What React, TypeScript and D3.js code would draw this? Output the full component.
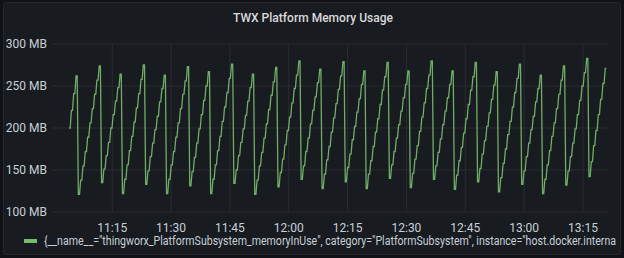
import React from "react";
import * as d3 from "d3";

const W = 624;
const H = 258;

const chartTitle = "TWX Platform Memory Usage";
const legendLabel =
  '{__name__="thingworx_PlatformSubsystem_memoryInUse", category="PlatformSubsystem", instance="host.docker.interna';

const yTicks = [100, 150, 200, 250, 300];
const xTickLabels = ["11:15", "11:30", "11:45", "12:00", "12:15", "12:30", "12:45", "13:00", "13:15"];

const rangeStart = "10:59:39";
const rangeEnd = "13:21:38";
const seriesStart = "11:04:00";
const sampleSeconds = 35.5;

// memory in use (MB), one value per sample, grouped by GC cycle
const startValues = [200, 221, 241, 262];
const memoryCycles: number[][] = [
  [121, 138, 155, 172, 189, 206, 223, 240, 257, 274],
  [135, 151, 167, 183, 200, 216, 232, 248, 264],
  [122, 139, 156, 173, 190, 207, 224, 241, 258, 275],
  [133, 149, 166, 182, 198, 214, 231, 247, 263],
  [122, 139, 156, 172, 189, 206, 223, 240, 256, 273],
  [131, 148, 165, 182, 199, 216, 233, 250, 267],
  [122, 139, 156, 173, 190, 208, 225, 242, 259, 276],
  [134, 150, 167, 183, 199, 215, 232, 248, 264],
  [121, 138, 155, 171, 188, 205, 222, 239, 255, 272],
  [130, 147, 163, 180, 197, 213, 230, 247, 263, 280],
  [139, 155, 172, 188, 205, 221, 237, 254, 270],
  [128, 145, 162, 178, 195, 212, 229, 246, 262, 279],
  [136, 153, 169, 186, 202, 219, 235, 252, 268],
  [128, 145, 161, 178, 195, 211, 228, 245, 261, 278],
  [140, 156, 172, 188, 204, 220, 236, 252, 268],
  [129, 146, 163, 179, 196, 213, 230, 247, 263, 280],
  [139, 155, 171, 187, 204, 220, 236, 252, 268],
  [127, 144, 161, 177, 194, 211, 228, 245, 261, 278],
  [136, 152, 169, 185, 202, 218, 234, 251, 267],
  [124, 141, 158, 175, 192, 208, 225, 242, 259, 276],
  [133, 149, 166, 182, 198, 214, 231, 247, 263],
  [122, 139, 156, 173, 190, 206, 223, 240, 257, 274],
  [132, 149, 166, 182, 199, 216, 233, 250, 266, 283],
  [142, 160, 179, 197, 216, 234, 253, 271],
];

const parseT = (s: string) => {
  const [h, m, sec] = s.split(":").map(Number);
  return new Date(2021, 0, 1, h, m, sec || 0);
};

export default function App() {
  const plotL = 52;
  const plotR = 609;
  const plotT = 44;
  const plotB = 212;

  const x = d3.scaleTime().domain([parseT(rangeStart), parseT(rangeEnd)]).range([plotL, plotR]);
  const y = d3.scaleLinear().domain([100, 300]).range([plotB, plotT]);

  const values = [...startValues, ...memoryCycles.flat()];
  const t0 = parseT(seriesStart).getTime();
  const pts: [Date, number][] = [];
  values.forEach((v, k) => {
    const t = t0 + k * sampleSeconds * 1000;
    pts.push([new Date(t), v]);
    pts.push([new Date(t + (sampleSeconds * 1000) / 2), v]);
  });
  const line = d3
    .line<[Date, number]>()
    .x((d) => x(d[0]))
    .y((d) => y(d[1]));

  const font = "Roboto, Inter, 'Noto Sans', sans-serif";
  const gridColor = "#2a2d33";
  const textColor = "#c7d0d9";

  return (
    <svg width={W} height={H} style={{ display: "block", position: "absolute", left: 0, top: 0 }}>
      <rect x={0} y={0} width={W} height={H} fill="#111217" />
      <rect x={3.5} y={2.5} width={W - 7} height={H - 6} fill="#181b1f" stroke="#24272d" rx={2} />
      <text x={313} y={22} textAnchor="middle" fill="#d8d9da" fontFamily="Roboto, Inter, sans-serif" fontSize={13} fontWeight={500} textLength={160} lengthAdjust="spacingAndGlyphs">
        {chartTitle}
      </text>
      {yTicks.map((v) => (
        <g key={v}>
          <line x1={plotL} x2={plotR} y1={y(v)} y2={y(v)} stroke={gridColor} />
          <text x={47} y={y(v)} dy="0.35em" textAnchor="end" fill={textColor} fontFamily={font} fontSize={12}>
            {`${v} MB`}
          </text>
        </g>
      ))}
      {xTickLabels.map((lab) => {
        const xp = x(parseT(lab));
        return (
          <g key={lab}>
            <line x1={xp} x2={xp} y1={plotT} y2={plotB} stroke={gridColor} />
            <text x={xp} y={228} dy="0.35em" textAnchor="middle" fill={textColor} fontFamily={font} fontSize={12}>
              {lab}
            </text>
          </g>
        );
      })}
      <path d={line(pts) || ""} fill="none" stroke="#6fae66" strokeWidth={1.3} />
      <rect x={24} y={239} width={13} height={4} fill="#73BF69" />
      <text x={44} y={241} dy="0.35em" fill={textColor} fontFamily={font} fontSize={12} textLength={572} lengthAdjust="spacingAndGlyphs">
        {legendLabel}
      </text>
    </svg>
  );
}
